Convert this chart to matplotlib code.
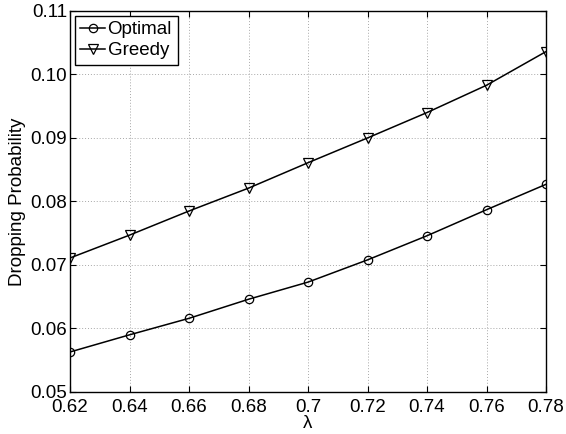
import matplotlib
matplotlib.use("Agg")
import matplotlib.pyplot as plt

lam = [0.62, 0.64, 0.66, 0.68, 0.70, 0.72, 0.74, 0.76, 0.78]
optimal = [0.0563, 0.0590, 0.0616, 0.0646, 0.0673, 0.0708, 0.0746, 0.0787, 0.0827]
greedy = [0.0711, 0.0747, 0.0785, 0.0821, 0.0861, 0.0900, 0.0940, 0.0983, 0.1036]
xticks = [0.62, 0.64, 0.66, 0.68, 0.7, 0.72, 0.74, 0.76, 0.78]
xtick_labels = ["0.62", "0.64", "0.66", "0.68", "0.7", "0.72", "0.74", "0.76", "0.78"]
yticks = [0.05, 0.06, 0.07, 0.08, 0.09, 0.10, 0.11]
ytick_labels = ["0.05", "0.06", "0.07", "0.08", "0.09", "0.10", "0.11"]

plt.rcParams['font.family'] = ['Liberation Sans', 'DejaVu Sans']
fs = 13.5
fig = plt.figure(figsize=(5.66, 4.34), dpi=100)
ax = fig.add_axes([0.1237, 0.0968, 0.841, 0.878])

ax.plot(lam, optimal, color='black', lw=1.1, marker='o', ms=6, mfc='none', mec='black', mew=0.9, label='Optimal')
ax.plot(lam, greedy, color='black', lw=1.1, marker='v', ms=7, mfc='none', mec='black', mew=0.9, label='Greedy')

ax.set_xlim(0.62, 0.78)
ax.set_ylim(0.05, 0.11)
ax.set_xticks(xticks)
ax.set_xticklabels(xtick_labels)
ax.set_yticks(yticks)
ax.set_yticklabels(ytick_labels)
ax.tick_params(direction='in', labelsize=fs, length=4, top=True, right=True)
ax.tick_params(axis='x', pad=5)
ax.tick_params(axis='y', pad=2)
ax.grid(True, linestyle=(0, (1, 2)), color='#a8a8a8', linewidth=0.7)
for s in ax.spines.values():
    s.set_linewidth(1.0)

ax.set_xlabel('λ', fontsize=fs, labelpad=-1)
ax.set_ylabel('Dropping Probability', fontsize=fs, labelpad=3)

leg = ax.legend(loc='upper left', fontsize=fs, handlelength=1.3, handletextpad=0.15,
                borderpad=0.3, labelspacing=0.2, borderaxespad=0.25, fancybox=False,
                framealpha=1, edgecolor='black')
leg.get_frame().set_linewidth(1.0)

fig.savefig('out.png', dpi=100)
